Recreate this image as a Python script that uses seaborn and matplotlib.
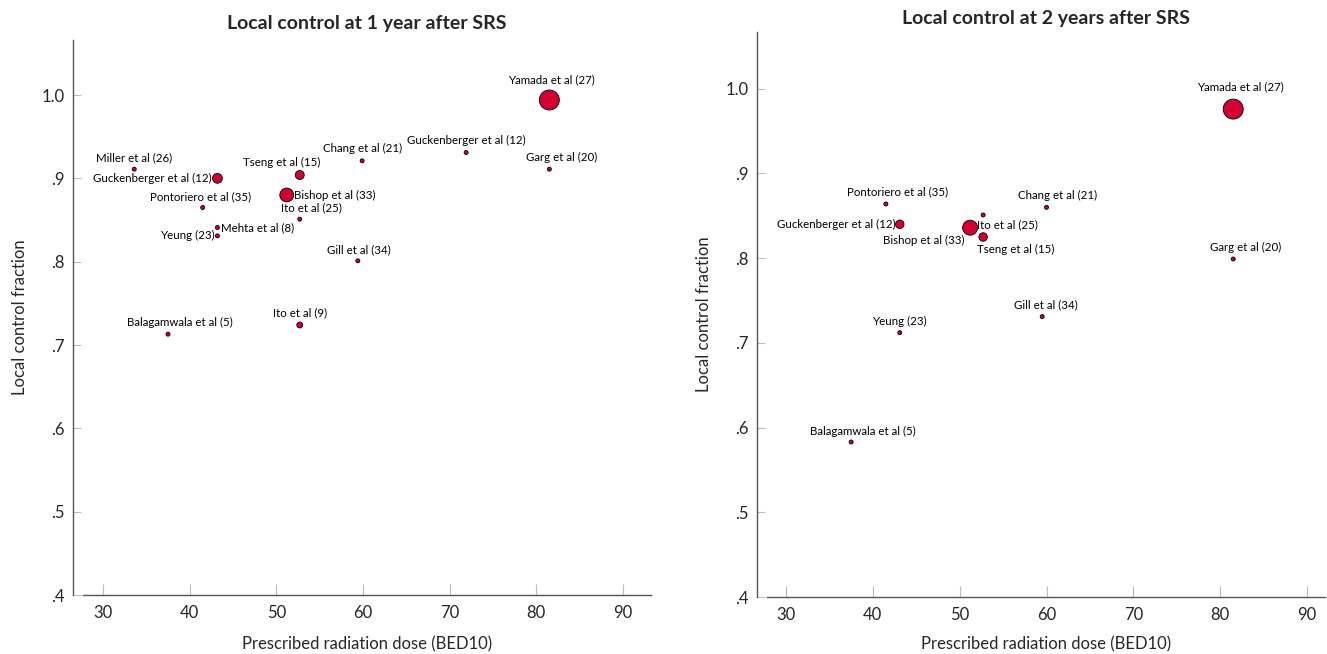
import pandas as pd
import seaborn as sns
import matplotlib.pyplot as plt
from matplotlib.ticker import FuncFormatter

# dados
estudos_1a = ["Yamada et al (27)", "Guckenberger et al (12)", "Garg et al (20)", "Chang et al (21)",
              "Tseng et al (15)", "Bishop et al (33)", "Miller et al (26)", "Guckenberger et al (12) ",
              "Pontoriero et al (35)", "Ito et al (25)", "Mehta et al (8)", "Yeung (23)",
              "Gill et al (34)", "Ito et al (9)", "Balagamwala et al (5)"]
dose_1a = [81.5, 71.9, 81.5, 59.9, 52.7, 51.2, 33.6, 43.2, 41.5, 52.7, 43.2, 43.2, 59.4, 52.7, 37.5]
lc_1a = [0.994, 0.931, 0.911, 0.921, 0.904, 0.880, 0.911, 0.900, 0.865, 0.851, 0.841, 0.831, 0.801, 0.724, 0.713]
peso_1a = [25, 1, 1, 1, 5, 12, 1, 6, 1, 1, 1, 1, 1, 2.2, 1]

estudos_2a = ["Yamada et al (27)", "Garg et al (20)", "Chang et al (21)", "Pontoriero et al (35)",
              "Ito et al (25)", "Bishop et al (33)", "Guckenberger et al (12)", "Tseng et al (15)",
              "Gill et al (34)", "Yeung (23)", "Balagamwala et al (5)"]
dose_2a = [81.5, 81.5, 60.0, 41.5, 52.7, 51.2, 43.1, 52.7, 59.5, 43.1, 37.5]
lc_2a = [0.976, 0.799, 0.860, 0.864, 0.851, 0.836, 0.840, 0.825, 0.731, 0.712, 0.583]
peso_2a = [25, 1, 1, 1, 1, 14, 4.5, 4.5, 1, 1, 1]

# posicao dos rotulos (dx, dy em pixels, alinhamento)
rot_1a = [(2, 20, "center"), (0, 12, "center"), (12, 12, "center"), (0, 12, "center"),
          (-18, 13, "center"), (7, 0, "left"), (0, 11, "center"), (-6, 0, "right"),
          (-2, 11, "center"), (12, 11, "center"), (4, 0, "left"), (-3, 0, "right"),
          (1, 11, "center"), (0, 12, "center"), (12, 12, "center")]
rot_2a = [(7, 22, "center"), (12, 12, "center"), (11, 12, "center"), (12, 12, "center"),
          (-6, -10, "left"), (-6, -13, "right"), (-4, 0, "right"), (-6, -12, "left"),
          (4, 12, "center"), (0, 11, "center"), (12, 11, "center")]

sns.set_style("ticks")
plt.rcParams['font.family'] = ['Lato', 'DejaVu Sans']

vermelho = "#d40032"
fig = plt.figure(figsize=(13.27, 6.54), dpi=100)
W, H = 1327, 654
ax1 = fig.add_axes([83 / W, (H - 595) / H, (651 - 83) / W, (595 - 40) / H])
ax2 = fig.add_axes([767 / W, (H - 597) / H, (1325 - 767) / W, (597 - 32) / H])


def fmt(v, pos):
    s = f"{v:.1f}"
    return s[1:] if s.startswith("0") else s


def painel(ax, nomes, dose, lc, peso, rot, titulo, xlim, ylim, pad_titulo, pad_x):
    df = pd.DataFrame({"estudo": nomes, "dose": dose, "lc": lc, "peso": peso})
    sns.scatterplot(data=df, x="dose", y="lc", size="peso", sizes=(0, 207), size_norm=(0, 25),
                    color=vermelho, edgecolor="black", linewidth=0.6, legend=False, ax=ax, zorder=3)
    for i, r in df.iterrows():
        dx, dy, ha = rot[i]
        ax.annotate(r["estudo"].strip(), (r["dose"], r["lc"]), xytext=(dx * 0.72, dy * 0.72),
                    textcoords="offset points", ha=ha, va="center", fontsize=8.3, color="black")
    ax.set_xlim(*xlim)
    ax.set_ylim(*ylim)
    ax.set_xticks(range(30, 100, 10))
    ax.set_yticks([0.4, 0.5, 0.6, 0.7, 0.8, 0.9, 1.0])
    ax.yaxis.set_major_formatter(FuncFormatter(fmt))
    ax.tick_params(direction="in", length=8, color="#bbbbbb", labelsize=12, pad=7)
    ax.tick_params(axis="y", length=6, pad=6)
    sns.despine(ax=ax)
    ax.spines["left"].set_position(("outward", 7))
    for s in ["left", "bottom"]:
        ax.spines[s].set_color("#555555")
        ax.spines[s].set_linewidth(1.0)
    ax.set_xlabel("Prescribed radiation dose (BED10)", fontsize=12, labelpad=pad_x)
    ax.set_ylabel("Local control fraction", fontsize=12, labelpad=10)
    ax.set_title(titulo, fontsize=14, fontweight="bold", pad=pad_titulo)


painel(ax1, estudos_1a, dose_1a, lc_1a, peso_1a, rot_1a, "Local control at 1 year after SRS",
       (27.69, 93.23), (0.4, 1.066), 8, 11)
painel(ax2, estudos_2a, dose_2a, lc_2a, peso_2a, rot_2a, "Local control at 2 years after SRS",
       (27.81, 92.07), (0.4, 1.067), 6, 10)

fig.savefig("out.png", dpi=100)
